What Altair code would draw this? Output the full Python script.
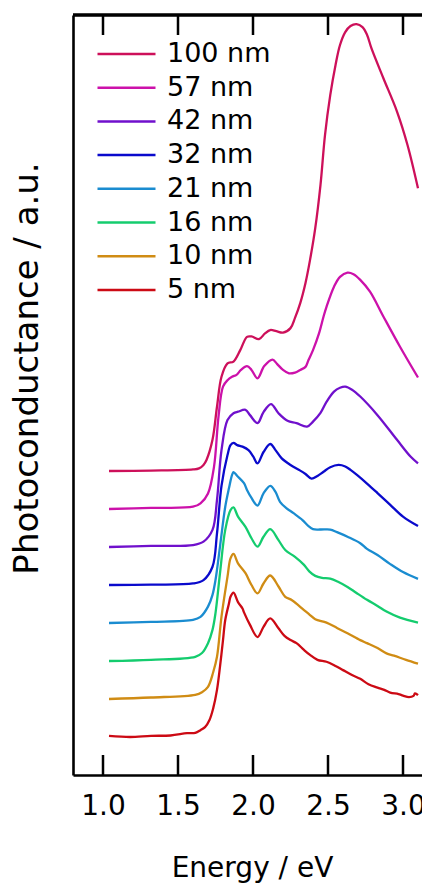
import altair as alt
import pandas as pd

# Film thicknesses, legend order (top to bottom) and line colours
films = ["100 nm", "57 nm", "42 nm", "32 nm", "21 nm", "16 nm", "10 nm", "5 nm"]
colors = ["#CD105A", "#CC11AA", "#7010CC", "#0A0ACC", "#1A8CD0", "#14CC6E", "#D08C14", "#CC0A14"]
# vertical offset of each spectrum (a.u.)
offsets = [8, 7, 6, 5, 4, 3, 2, 1]

# Photoconductance spectra: photon energy (eV) and signal above baseline (a.u.)
energy_100 = [1.04, 1.32, 1.60, 1.64, 1.67, 1.69, 1.73, 1.76, 1.79, 1.83, 1.87, 1.915, 1.96, 1.99,
              2.04, 2.08, 2.115, 2.155, 2.20, 2.25, 2.28, 2.315, 2.35, 2.38, 2.415, 2.45, 2.48,
              2.515, 2.55, 2.58, 2.615, 2.65, 2.69, 2.73, 2.76, 2.79, 2.87, 2.96, 3.03, 3.10]
signal_100 = [0.00, 0.01, 0.04, 0.07, 0.16, 0.29, 0.82, 1.69, 2.48, 2.83, 2.88, 3.18, 3.53, 3.54,
              3.47, 3.62, 3.71, 3.68, 3.64, 3.76, 4.03, 4.42, 4.95, 5.55, 6.39, 7.53, 8.84,
              9.89, 10.68, 11.21, 11.55, 11.71, 11.76, 11.68, 11.48, 11.12, 10.33, 9.46, 8.58, 7.44]

energy_57 = [1.04, 1.32, 1.60, 1.65, 1.70, 1.74, 1.77, 1.80, 1.83, 1.86, 1.89, 1.92, 1.96, 1.99,
             2.03, 2.075, 2.13, 2.16, 2.20, 2.24, 2.28, 2.315, 2.35, 2.37, 2.40, 2.44, 2.47,
             2.49, 2.54, 2.58, 2.63, 2.67, 2.715, 2.78, 2.87, 2.98, 3.10]
signal_57 = [0.00, 0.03, 0.06, 0.15, 0.41, 1.11, 2.43, 3.22, 3.39, 3.48, 3.53, 3.66, 3.76, 3.66,
             3.44, 3.76, 3.93, 3.82, 3.66, 3.57, 3.59, 3.66, 3.74, 3.92, 4.18, 4.62, 5.06,
             5.32, 5.85, 6.11, 6.22, 6.18, 6.03, 5.72, 5.06, 4.27, 3.46]

energy_42 = [1.04, 1.32, 1.60, 1.67, 1.73, 1.76, 1.79, 1.83, 1.87, 1.90, 1.95, 1.98, 2.03, 2.07,
             2.12, 2.17, 2.23, 2.29, 2.36, 2.40, 2.45, 2.49, 2.54, 2.58, 2.615, 2.66, 2.715,
             2.83, 2.96, 3.05, 3.10]
signal_42 = [0.00, 0.03, 0.05, 0.14, 0.45, 1.24, 2.55, 3.34, 3.52, 3.56, 3.61, 3.47, 3.26, 3.55,
             3.76, 3.52, 3.32, 3.26, 3.17, 3.30, 3.53, 3.82, 4.09, 4.19, 4.22, 4.14, 3.96,
             3.47, 2.82, 2.38, 2.20]

energy_32 = [1.04, 1.32, 1.60, 1.67, 1.73, 1.76, 1.79, 1.83, 1.85, 1.87, 1.895, 1.93, 1.97, 2.00,
             2.03, 2.07, 2.115, 2.15, 2.19, 2.25, 2.315, 2.35, 2.39, 2.43, 2.47, 2.515, 2.57,
             2.615, 2.65, 2.695, 2.76, 2.83, 2.915, 3.00, 3.10]
signal_32 = [0.00, 0.01, 0.04, 0.13, 0.48, 1.36, 2.61, 3.42, 3.68, 3.74, 3.68, 3.64, 3.55, 3.39,
             3.20, 3.50, 3.71, 3.55, 3.34, 3.16, 3.01, 2.92, 2.80, 2.87, 2.98, 3.10, 3.16,
             3.12, 3.03, 2.89, 2.67, 2.42, 2.11, 1.80, 1.55]

energy_21 = [1.04, 1.32, 1.60, 1.65, 1.70, 1.73, 1.75, 1.78, 1.815, 1.84, 1.86, 1.87, 1.895, 1.94,
             1.96, 1.99, 2.03, 2.07, 2.115, 2.15, 2.18, 2.22, 2.27, 2.33, 2.37, 2.40, 2.45,
             2.515, 2.56, 2.63, 2.715, 2.76, 2.83, 2.915, 3.00, 3.10]
signal_21 = [0.00, 0.03, 0.08, 0.16, 0.43, 0.74, 1.13, 2.01, 3.06, 3.55, 3.89, 3.97, 3.87, 3.68,
             3.50, 3.29, 3.09, 3.41, 3.61, 3.45, 3.19, 3.03, 2.89, 2.71, 2.55, 2.47, 2.46,
             2.46, 2.39, 2.27, 2.10, 1.95, 1.79, 1.55, 1.34, 1.16]

energy_16 = [1.04, 1.32, 1.615, 1.66, 1.70, 1.73, 1.75, 1.78, 1.815, 1.85, 1.87, 1.90, 1.95, 1.99,
             2.03, 2.07, 2.115, 2.17, 2.215, 2.28, 2.34, 2.375, 2.415, 2.46, 2.515, 2.57, 2.63,
             2.69, 2.76, 2.83, 2.89, 2.98, 3.10]
signal_16 = [0.00, 0.03, 0.11, 0.21, 0.47, 0.82, 1.26, 2.31, 3.45, 3.97, 4.04, 3.80, 3.53, 3.23,
             3.01, 3.27, 3.47, 3.18, 2.92, 2.74, 2.53, 2.36, 2.24, 2.19, 2.17, 2.08, 1.95,
             1.79, 1.61, 1.45, 1.30, 1.14, 1.01]

energy_10 = [1.04, 1.32, 1.615, 1.66, 1.70, 1.735, 1.76, 1.79, 1.83, 1.85, 1.87, 1.90, 1.95, 1.99,
             2.03, 2.07, 2.115, 2.17, 2.215, 2.26, 2.34, 2.38, 2.415, 2.49, 2.56, 2.63, 2.715,
             2.76, 2.83, 2.89, 2.94, 3.02, 3.10]
signal_10 = [0.00, 0.04, 0.11, 0.18, 0.32, 0.71, 1.11, 2.17, 3.22, 3.70, 3.82, 3.57, 3.31, 3.00,
             2.78, 3.04, 3.25, 2.96, 2.69, 2.60, 2.34, 2.21, 2.10, 2.01, 1.87, 1.73, 1.55,
             1.47, 1.34, 1.20, 1.14, 1.03, 0.93]

energy_5 = [1.04, 1.18, 1.32, 1.45, 1.56, 1.615, 1.65, 1.68, 1.71, 1.735, 1.76, 1.78, 1.80, 1.815,
            1.84, 1.85, 1.87, 1.90, 1.93, 1.94, 1.98, 2.03, 2.07, 2.115, 2.17, 2.21, 2.25,
            2.29, 2.34, 2.38, 2.43, 2.49, 2.55, 2.60, 2.66, 2.715, 2.77, 2.83, 2.875, 2.915,
            2.97, 3.00, 3.04, 3.07, 3.08, 3.10]
signal_5 = [0.03, 0.00, 0.03, 0.04, 0.10, 0.11, 0.18, 0.26, 0.45, 0.76, 1.24, 1.85, 2.55, 3.08,
            3.52, 3.69, 3.80, 3.55, 3.38, 3.28, 2.95, 2.63, 2.90, 3.12, 2.86, 2.66, 2.55,
            2.47, 2.29, 2.16, 2.03, 1.98, 1.87, 1.76, 1.63, 1.53, 1.39, 1.30, 1.24, 1.17,
            1.13, 1.09, 1.05, 1.08, 1.15, 1.10]

# x-axis tick positions (eV)
tick_values = [1.0, 1.5, 2.0, 2.5, 3.0]

series = [
    (energy_100, signal_100), (energy_57, signal_57), (energy_42, signal_42),
    (energy_32, signal_32), (energy_21, signal_21), (energy_16, signal_16),
    (energy_10, signal_10), (energy_5, signal_5),
]
rows = []
for film, off, (es, ss) in zip(films, offsets, series):
    for e, s in zip(es, ss):
        rows.append({"film": film, "energy": e, "pc": s + off})
df = pd.DataFrame(rows)
ticks_df = pd.DataFrame({"tick": tick_values})

W, H = 349, 760
FONT = "DejaVu Sans"
x_scale = alt.Scale(domain=[0.8, 0.8 + W / 150], nice=False, zero=False)
y_scale = alt.Scale(domain=[0, 20], nice=False, zero=False)

lines = alt.Chart(df).mark_line(strokeWidth=2.3, interpolate="catmull-rom", clip=True).encode(
    x=alt.X("energy:Q", scale=x_scale,
            axis=alt.Axis(values=tick_values, format=".1f", ticks=False, tickSize=0,
                          domainWidth=2.6, domainColor="black", labelFontSize=28, labelFont=FONT,
                          labelColor="black", labelPadding=17, labelFlush=False, labelOverlap=False,
                          grid=False, title="Energy / eV", titleFont=FONT, titleFontSize=28,
                          titleFontWeight="normal", titleColor="black", titleBaseline="alphabetic",
                          titleAlign="center", titleX=179, titleY=101)),
    y=alt.Y("pc:Q", scale=y_scale,
            axis=alt.Axis(ticks=False, labels=False, grid=False, domainWidth=2.6,
                          domainColor="black", title="Photoconductance / a.u.", titleFont=FONT,
                          titleFontSize=34, titleFontWeight="normal", titleColor="black",
                          titleAngle=270, titleBaseline="alphabetic", titleAlign="center",
                          titleX=-36, titleY=353)),
    color=alt.Color("film:N", scale=alt.Scale(domain=films, range=colors), sort=films,
                    legend=alt.Legend(orient="none", legendX=23, legendY=25, title=None,
                                      symbolType="stroke", symbolSize=3364, symbolStrokeWidth=2.5,
                                      labelFontSize=27, labelFont=FONT, labelColor="black",
                                      labelOffset=10, clipHeight=28, rowPadding=5.7, padding=0)),
    detail="film:N",
)

bottom_ticks = alt.Chart(ticks_df).mark_rule(color="black", strokeWidth=2.5).encode(
    x=alt.X("tick:Q", scale=x_scale), y=alt.value(H), y2=alt.value(H - 20))
top_ticks = alt.Chart(ticks_df).mark_rule(color="black", strokeWidth=2.5).encode(
    x=alt.X("tick:Q", scale=x_scale), y=alt.value(0), y2=alt.value(20))
top_frame = alt.Chart(ticks_df).mark_rule(color="black", strokeWidth=2.6).encode(
    x=alt.value(0), x2=alt.value(W), y=alt.value(0))

chart = alt.layer(lines, bottom_ticks, top_ticks, top_frame).properties(
    width=W, height=H,
    autosize=alt.AutoSizeParams(type="none"),
    padding={"left": 73, "top": 15, "right": 0, "bottom": 108},
).configure_view(stroke=None).configure(background="white")

chart.save("out.html", embed_options={"renderer": "svg", "actions": False})
